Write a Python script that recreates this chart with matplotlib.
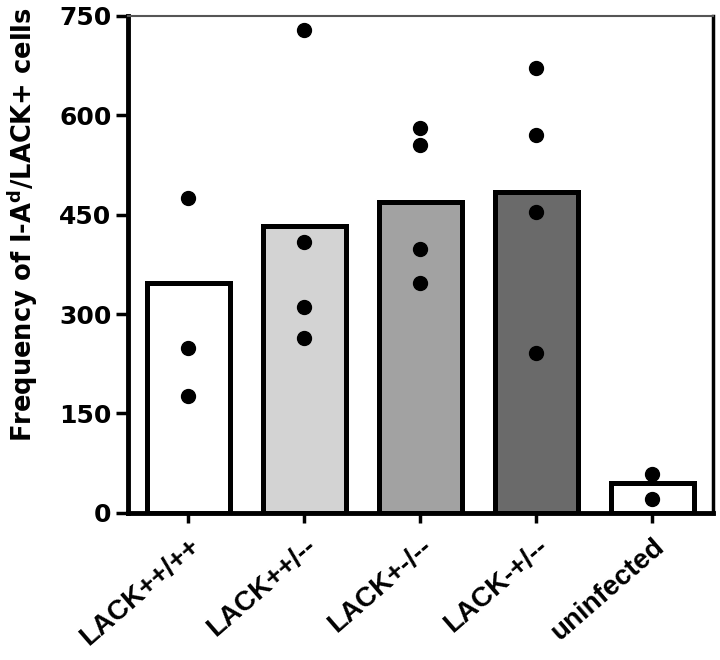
import matplotlib
matplotlib.use('Agg')
import matplotlib.pyplot as plt
import numpy as np

plt.rcParams['font.family'] = ['DejaVu Sans']
plt.rcParams['font.weight'] = 'bold'
plt.rcParams['mathtext.default'] = 'bf'

# Data
groups = ['LACK++/++', 'LACK++/--', 'LACK+-/--', 'LACK-+/--', 'uninfected']
means = [347, 433, 469, 484, 45]
points = [
    [475, 249, 177],
    [729, 409, 311, 264],
    [581, 555, 398, 347],
    [671, 570, 454, 241],
    [59, 21],
]
bar_colors = ['#ffffff', '#d3d3d3', '#a2a2a2', '#6a6a6a', '#ffffff']
yticks = [0, 150, 300, 450, 600, 750]

fig = plt.figure(figsize=(7.2, 6.6), dpi=100)
ax = fig.add_axes([0.178, 0.223, 0.812, 0.753])

x = np.arange(len(groups))
ax.bar(x, means, width=0.71, color=bar_colors, edgecolor='black',
       linewidth=3.6, zorder=2)
for i, pts in enumerate(points):
    ax.plot([x[i]] * len(pts), pts, 'o', color='black', markersize=10,
            zorder=3, clip_on=False)

ax.set_xlim(-0.52, 4.52)
ax.set_ylim(0, 750)
ax.set_yticks(yticks)
ax.set_xticks(x)
ax.set_xticklabels(groups, rotation=41, ha='right', rotation_mode='anchor',
                   fontsize=20, fontweight='bold',
                   family=['Liberation Sans', 'DejaVu Sans'])
ax.tick_params(axis='y', labelsize=18, length=9, width=2.5, direction='out',
               pad=3)
ax.tick_params(axis='x', length=7, width=2.5, direction='out', pad=8)
for lab in ax.get_yticklabels():
    lab.set_fontweight('bold')

ax.set_ylabel(r'Frequency of I-A$^{d}$/LACK+ cells', fontsize=18.5,
              fontweight='bold', labelpad=10)
ax.yaxis.set_label_coords(-0.15, 0.58)

ax.spines['left'].set_linewidth(3.5)
ax.spines['bottom'].set_linewidth(3.5)
ax.spines['right'].set_linewidth(2.5)
ax.spines['top'].set_linewidth(1.5)
ax.spines['top'].set_color('#555555')

fig.savefig('out.png', dpi=100)
